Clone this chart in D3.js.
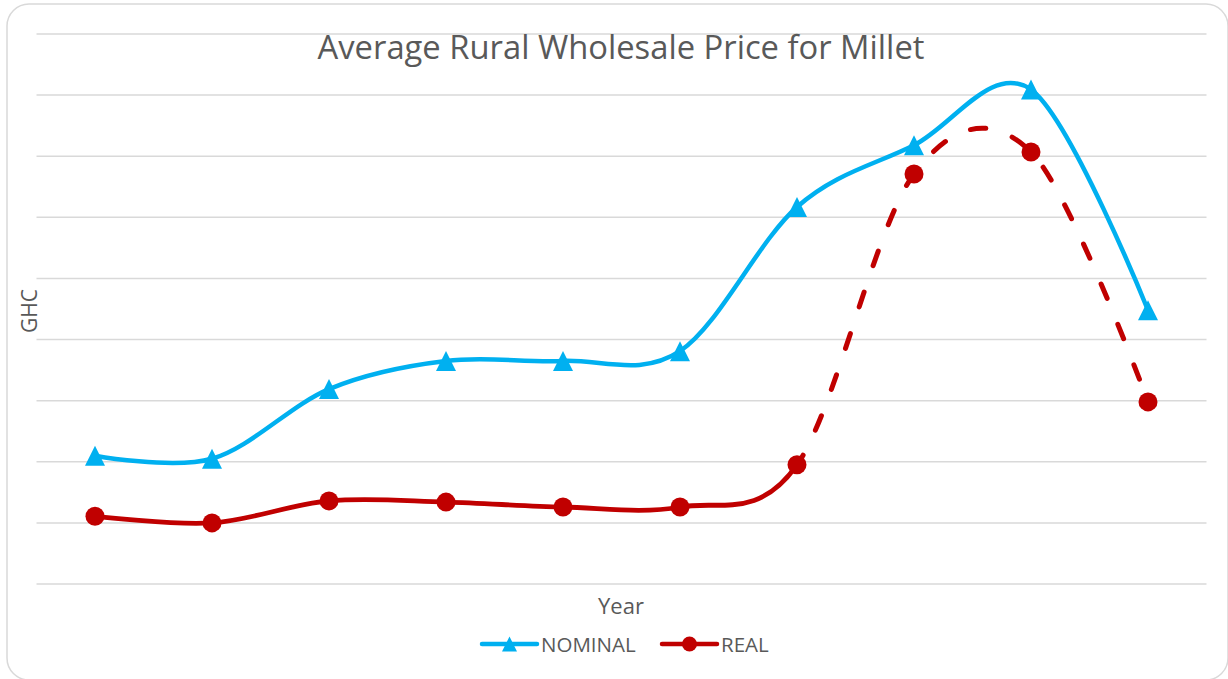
<!DOCTYPE html>
<html>
<head>
<meta charset="utf-8">
<script src="https://cdn.jsdelivr.net/npm/d3@7"></script>
<style>
  body { margin: 0; background: #fff; }
  svg { display: block; }
  text { font-family: "Open Sans", "Liberation Sans", sans-serif; fill: #595959; }
</style>
</head>
<body>
<svg id="chart"></svg>
<script>
// values (no y tick labels shown, so units are relative)
var periods = ["P1", "P2", "P3", "P4", "P5", "P6", "P7", "P8", "P9", "P10"];
var nominal = [21.0, 20.5, 31.9, 36.5, 36.5, 38.1, 61.7, 71.8, 80.9, 44.8];
var real    = [11.1, 10.0, 13.6, 13.4, 12.6, 12.6, 19.5, 67.1, 70.7, 29.8];
var gridTicks = [0, 10, 20, 30, 40, 50, 60, 70, 80, 90];
var dashFrom = 6; // REAL line turns dashed after this point

var W = 1228, H = 679;
var plot = { left: 36.5, right: 1206.5, top: 34, bottom: 584 };
var blue = "#00B0F0", red = "#C00000", grid = "#D9D9D9";

var svg = d3.select("#chart").attr("width", W).attr("height", H);

// chart border
svg.append("rect")
  .attr("x", 7).attr("y", 4)
  .attr("width", 1221).attr("height", 676)
  .attr("rx", 22).attr("ry", 22)
  .attr("fill", "#fff")
  .attr("stroke", grid).attr("stroke-width", 1.5);

var x = d3.scalePoint().domain(periods).range([plot.left, plot.right]).padding(0.5);
var y = d3.scaleLinear().domain([0, 90]).range([plot.bottom, plot.top]);

// gridlines
svg.append("g").selectAll("line")
  .data(gridTicks)
  .enter().append("line")
  .attr("x1", plot.left).attr("x2", plot.right)
  .attr("y1", function(d) { return y(d); })
  .attr("y2", function(d) { return y(d); })
  .attr("stroke", grid).attr("stroke-width", 1.5);

// title, sized to the reference width
var title = svg.append("text")
  .attr("x", 621).attr("y", 59)
  .attr("text-anchor", "middle")
  .style("font-size", "28px")
  .text("Average Rural Wholesale Price for Millet");
var tl = title.node().getComputedTextLength();
title.style("font-size", (28 * 607 / tl) + "px");

// axis titles
svg.append("text")
  .attr("transform", "translate(37,311) rotate(-90)")
  .attr("text-anchor", "middle")
  .style("font-size", "21px")
  .text("GHC");

svg.append("text")
  .attr("x", 621).attr("y", 614)
  .attr("text-anchor", "middle")
  .style("font-size", "22px")
  .text("Year");

var line = d3.line()
  .x(function(d, i) { return x(periods[i]); })
  .y(function(d) { return y(d); })
  .curve(d3.curveCardinal.tension(0));

// NOMINAL
svg.append("path")
  .attr("d", line(nominal))
  .attr("fill", "none")
  .attr("stroke", blue).attr("stroke-width", 4.5)
  .attr("stroke-linejoin", "round").attr("stroke-linecap", "round");

function triPath(w) {
  // triangle with base w and height w, centred in its box
  var h = w;
  return "M0," + (-h / 2) + "L" + (w / 2) + "," + (h / 2) + "L" + (-w / 2) + "," + (h / 2) + "Z";
}

svg.append("g").selectAll("path")
  .data(nominal)
  .enter().append("path")
  .attr("d", triPath(20))
  .attr("transform", function(d, i) { return "translate(" + x(periods[i]) + "," + y(d) + ")"; })
  .attr("fill", blue);

// REAL: solid up to dashFrom, dashed afterwards (split by clip on x)
var splitX = x(periods[dashFrom]);
var defs = svg.append("defs");
defs.append("clipPath").attr("id", "clipSolid")
  .append("rect").attr("x", 0).attr("y", 0).attr("width", splitX).attr("height", H);
defs.append("clipPath").attr("id", "clipDash")
  .append("rect").attr("x", splitX).attr("y", 0).attr("width", W - splitX).attr("height", H);

svg.append("path")
  .attr("d", line(real))
  .attr("clip-path", "url(#clipSolid)")
  .attr("fill", "none")
  .attr("stroke", red).attr("stroke-width", 4.8)
  .attr("stroke-linejoin", "round").attr("stroke-linecap", "round");

// the dashed piece uses the full curve so the tangents match
svg.append("path")
  .attr("d", line(real))
  .attr("clip-path", "url(#clipDash)")
  .attr("fill", "none")
  .attr("stroke", red).attr("stroke-width", 5)
  .attr("stroke-linecap", "round")
  .attr("stroke-dasharray", "15.5,28")
  .each(function() {
    // start the dash pattern at the split point
    var p = this, total = p.getTotalLength(), lo = 0, hi = total;
    for (var k = 0; k < 40; k++) {
      var mid = (lo + hi) / 2;
      if (p.getPointAtLength(mid).x < splitX) lo = mid; else hi = mid;
    }
    d3.select(p).attr("stroke-dashoffset", -(lo - 4));
  });

svg.append("g").selectAll("circle")
  .data(real)
  .enter().append("circle")
  .attr("cx", function(d, i) { return x(periods[i]); })
  .attr("cy", function(d) { return y(d); })
  .attr("r", 9.5)
  .attr("fill", red);

// legend
var lg = svg.append("g").attr("transform", "translate(0,644)");
lg.append("line").attr("x1", 482).attr("x2", 537).attr("y1", 0).attr("y2", 0)
  .attr("stroke", blue).attr("stroke-width", 4.5).attr("stroke-linecap", "round");
lg.append("path").attr("d", triPath(15)).attr("transform", "translate(509.5,0)").attr("fill", blue);
lg.append("text").attr("x", 541).attr("y", 7.5).style("font-size", "20.5px").text("NOMINAL");

lg.append("line").attr("x1", 662).attr("x2", 717).attr("y1", 0).attr("y2", 0)
  .attr("stroke", red).attr("stroke-width", 4.5).attr("stroke-linecap", "round");
lg.append("circle").attr("cx", 689.5).attr("cy", 0).attr("r", 7.5).attr("fill", red);
lg.append("text").attr("x", 721).attr("y", 7.5).style("font-size", "20.5px").text("REAL");
</script>
</body>
</html>
